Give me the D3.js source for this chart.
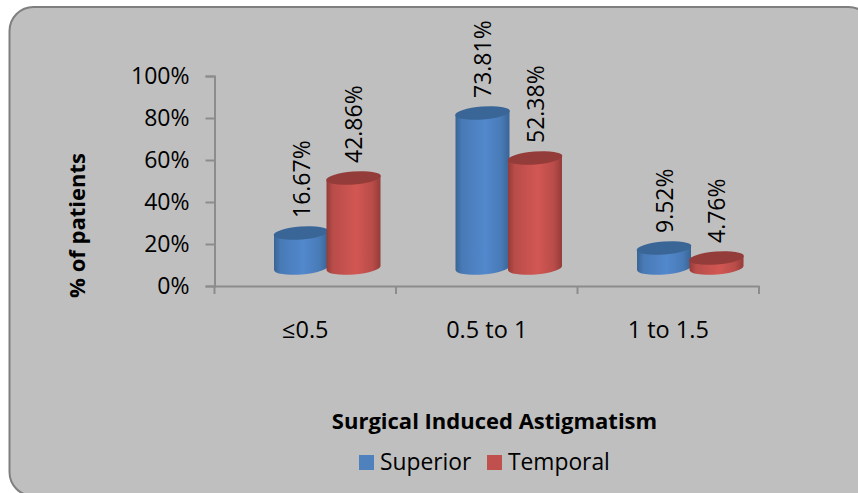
<!DOCTYPE html>
<html><head><meta charset="utf-8">
<script src="https://cdn.jsdelivr.net/npm/d3@7"></script>
<style>html,body{margin:0;padding:0;background:#fff}svg{display:block}text{font-family:"Open Sans","Noto Sans",sans-serif;fill:#000}</style>
</head><body><svg id="c" width="858" height="493"></svg>
<script>
const categories = ["≤0.5", "0.5 to 1", "1 to 1.5"];
const seriesNames = ["Superior", "Temporal"];
const superior = [16.67, 73.81, 9.52];
const temporal = [42.86, 52.38, 4.76];
const yTicks = [0, 20, 40, 60, 80, 100];
const seriesValues = [superior, temporal];
const colors = ["#4f81bd", "#c0504d"];
const shades = [
  {dark:"#3a6494", mid:"#5288cd", top:"#3a6697"},
  {dark:"#943c39", mid:"#d25753", top:"#943c39"}
];
const FONT = '"Open Sans"';

const svg = d3.select("#c");
const defs = svg.append("defs");
shades.forEach((s,i)=>{
  const g = defs.append("linearGradient").attr("id","cyl"+i);
  [[0,s.dark],[.12,d3.interpolateRgb(s.dark,s.mid)(.6)],[.55,s.mid],[.85,d3.interpolateRgb(s.dark,s.mid)(.6)],[1,s.dark]]
    .forEach(([o,c])=>g.append("stop").attr("offset",o).attr("stop-color",c));
});

svg.append("rect").attr("x",9.5).attr("y",7).attr("width",863).attr("height",489).attr("rx",24)
  .attr("fill","#bfbfbf").attr("stroke","#7f7f7f").attr("stroke-width",2);

const y = d3.scaleLinear().domain([0,100]).range([286,76]);
const x = d3.scaleBand().domain(categories).range([214.5,759]);
const x1 = d3.scaleBand().domain([0,1]).range([-30.5,74.5]);

const yAxis = svg.append("g").attr("transform","translate(214.5,0)")
  .call(d3.axisLeft(y).tickValues(yTicks).tickFormat(d=>d+"%").tickSize(9).tickPadding(16));
const xAxis = svg.append("g").attr("transform","translate(0,286)")
  .call(d3.axisBottom(x).tickSize(0).tickPadding(35));
xAxis.selectAll(".tick line").remove();
xAxis.selectAll(".tk").data([...categories.map(c=>x(c)),x.range()[1]]).join("line").attr("class","tk")
  .attr("x1",d=>d).attr("x2",d=>d).attr("y1",0).attr("y2",8);
[yAxis,xAxis].forEach(a=>{
  a.selectAll("path,line").attr("stroke","#8c8c8c").attr("stroke-width",2).attr("fill","none");
  a.selectAll("text").style("font-size","23px").style("font-family",FONT);
});
xAxis.selectAll("text").style("font-size","23.5px");

const depth = 18, rx = 27, ry = 6.5, tilt = -4.5;
const slope = Math.tan(tilt*Math.PI/180)*rx;   // vertical rise from centre to right edge
categories.forEach((c,ci)=>{
  seriesValues.forEach((vals,si)=>{
    const v = vals[ci];
    const cx = x(c) + x.bandwidth()/2 + x1(si) + x1.bandwidth()/2;
    const base = y(0) - depth, cyTop = y(v) - depth;
    const g = svg.append("g");
    const body = `M${cx-rx},${cyTop-slope} L${cx-rx},${base-slope} A${rx},${ry} ${tilt} 0 0 ${cx+rx},${base+slope} L${cx+rx},${cyTop+slope} Z`;
    g.append("path").attr("d",body).attr("fill",`url(#cyl${si})`);
    g.append("ellipse").attr("cx",cx).attr("cy",cyTop).attr("rx",rx+0.4).attr("ry",ry)
      .attr("transform",`rotate(${tilt} ${cx} ${cyTop})`).attr("fill",shades[si].top);
    g.append("text").attr("transform",`translate(${cx+8.5},${cyTop-15}) rotate(-90)`)
      .attr("text-anchor","start").style("font-size","23px").text(v.toFixed(2)+"%");
  });
});

svg.append("text").attr("transform","translate(85,225.5) rotate(-90)").attr("text-anchor","middle")
  .style("font-size","22px").style("font-weight","700").text("% of patients");
svg.append("text").attr("x",494.5).attr("y",429).attr("text-anchor","middle")
  .style("font-size","22px").style("font-weight","700").text("Surgical Induced Astigmatism");

const lx = [359, 487];
seriesNames.forEach((n,i)=>{
  svg.append("rect").attr("x",lx[i]).attr("y",455).attr("width",15).attr("height",15).attr("fill",colors[i]);
  svg.append("text").attr("x",lx[i]+21).attr("y",470).style("font-size","22.8px").text(n);
});
</script></body></html>
